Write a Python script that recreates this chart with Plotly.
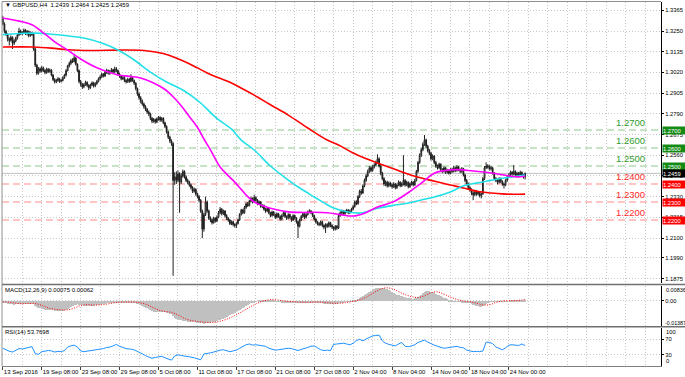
import plotly.graph_objects as go

W, H = 685, 377
PIP = 1e-4          # price lists stored in units of 0.0001
MACD_UNIT = 1e-5    # MACD lists stored in units of 0.00001

symbol_header = "\u25BC GBPUSD,H4  1.2439 1.2464 1.2425 1.2459"
macd_header = "MACD(12,26,9) 0.00075 0.00062"
rsi_header = "RSI(14) 53.7698"

# ---------------- candles (H4 bars, index 0 = 13 Sep 2016 08:00) ----------------
first_open = 13322
closes = [
    13290, 13248, 13230, 13205, 13198, 13215, 13182, 13195, 13210, 13228, 13250, 13238,
    13242, 13255, 13235, 13248, 13225, 13240, 13232, 13150, 13060, 13015, 13040, 13028,
    13045, 13030, 13020, 13038, 13025, 13032, 13005, 12980, 12968, 12975, 12985, 12970,
    12975, 12990, 13005, 13030, 13055, 13070, 13085, 13080, 13100, 13065, 13030, 12970,
    12955, 12940, 12952, 12965, 12948, 12935, 12950, 12962, 12945, 12958, 12970, 12985,
    12995, 13010, 13000, 13020, 13030, 13015, 13025, 13035, 13022, 13040, 13030, 13010,
    13000, 12985, 12992, 12975, 12968, 12982, 12970, 12990, 12975, 12960, 12930, 12900,
    12880, 12860, 12845, 12830, 12815, 12800, 12790, 12765, 12750, 12758, 12745, 12762,
    12770, 12755, 12765, 12740, 12720, 12690, 12660, 12640, 12625, 12420, 12440, 12420,
    12455, 12410, 12445, 12470, 12440, 12420, 12410, 12395, 12380, 12360, 12370, 12345,
    12330, 12310, 12250, 12150, 12230, 12300, 12250, 12210, 12200, 12185, 12210, 12195,
    12215, 12240, 12260, 12235, 12250, 12225, 12210, 12200, 12180, 12190, 12175, 12170,
    12180, 12200, 12230, 12255, 12240, 12270, 12290, 12280, 12305, 12320, 12300, 12325,
    12310, 12290, 12300, 12275, 12280, 12260, 12250, 12265, 12240, 12225, 12245, 12230,
    12215, 12235, 12220, 12205, 12225, 12240, 12220, 12210, 12230, 12215, 12200, 12225,
    12210, 12190, 12165, 12200, 12220, 12235, 12215, 12230, 12245, 12250, 12240, 12225,
    12205, 12190, 12180, 12175, 12190, 12170, 12160, 12175, 12165, 12185, 12170, 12160,
    12150, 12165, 12155, 12225, 12240, 12250, 12235, 12248, 12255, 12240, 12250, 12260,
    12275, 12300, 12290, 12330, 12360, 12350, 12390, 12420, 12445, 12470, 12490, 12475,
    12495, 12505, 12520, 12540, 12500, 12460, 12430, 12400, 12410, 12390, 12405, 12395,
    12385, 12400, 12380, 12395, 12410, 12390, 12400, 12420, 12395, 12410, 12385, 12400,
    12410, 12395, 12420, 12470, 12520, 12560, 12590, 12620, 12645, 12610, 12585, 12570,
    12540, 12555, 12520, 12500, 12490, 12510, 12480, 12470, 12490, 12465, 12475, 12460,
    12480, 12470, 12490, 12475, 12495, 12480, 12470, 12485, 12450, 12420, 12400, 12380,
    12370, 12350, 12340, 12360, 12345, 12355, 12335, 12345, 12430, 12490, 12500, 12495,
    12485, 12490, 12460, 12430, 12420, 12410, 12430, 12415, 12400, 12395, 12420, 12440,
    12450, 12465, 12455, 12470, 12450, 12460, 12445, 12465, 12450, 12439, 12459,
]
highs = [
    13335, 13298, 13256, 13238, 13215, 13226, 13220, 13204, 13218, 13236, 13268, 13258,
    13250, 13264, 13260, 13256, 13252, 13248, 13246, 13238, 13158, 13068, 13050, 13048,
    13056, 13052, 13038, 13046, 13044, 13042, 13038, 13010, 12988, 12984, 12994, 12990,
    12984, 12998, 13012, 13038, 13062, 13080, 13095, 13098, 13118, 13105, 13070, 13036,
    12978, 12962, 12960, 12974, 12970, 12955, 12958, 12970, 12968, 12966, 12978, 12992,
    13004, 13018, 13016, 13028, 13040, 13036, 13034, 13044, 13040, 13052, 13050, 13036,
    13018, 13006, 13000, 12998, 12982, 12990, 12988, 13010, 12996, 12980, 12966, 12936,
    12908, 12888, 12870, 12852, 12838, 12822, 12808, 12796, 12772, 12766, 12764, 12770,
    12778, 12776, 12772, 12770, 12746, 12726, 12696, 12668, 12648, 12632, 12465, 12470,
    12475, 12465, 12460, 12480, 12476, 12448, 12430, 12418, 12402, 12388, 12380, 12376,
    12352, 12338, 12316, 12258, 12240, 12330, 12308, 12258, 12220, 12208, 12218, 12215,
    12224, 12250, 12272, 12266, 12258, 12255, 12232, 12216, 12206, 12198, 12196, 12182,
    12188, 12208, 12238, 12262, 12262, 12278, 12298, 12300, 12312, 12330, 12326, 12340,
    12332, 12316, 12308, 12305, 12288, 12286, 12266, 12272, 12270, 12246, 12252, 12250,
    12236, 12242, 12240, 12226, 12232, 12248, 12245, 12226, 12238, 12236, 12220, 12232,
    12230, 12216, 12196, 12208, 12228, 12244, 12240, 12238, 12252, 12260, 12256, 12246,
    12230, 12212, 12196, 12188, 12198, 12196, 12176, 12182, 12182, 12192, 12190, 12176,
    12166, 12172, 12172, 12235, 12248, 12258, 12256, 12255, 12262, 12260, 12258, 12268,
    12284, 12308, 12310, 12338, 12368, 12372, 12398, 12430, 12455, 12480, 12500, 12498,
    12505, 12515, 12530, 12565, 12548, 12508, 12468, 12438, 12420, 12418, 12414, 12412,
    12402, 12410, 12406, 12404, 12420, 12415, 12410, 12560, 12428, 12418, 12414, 12408,
    12418, 12416, 12428, 12478, 12528, 12570, 12600, 12632, 12672, 12652, 12618, 12595,
    12578, 12565, 12560, 12528, 12508, 12518, 12515, 12488, 12498, 12495, 12484, 12480,
    12488, 12490, 12500, 12496, 12505, 12500, 12486, 12494, 12490, 12456, 12428, 12408,
    12388, 12376, 12358, 12368, 12366, 12362, 12360, 12352, 12440, 12500, 12520, 12510,
    12505, 12500, 12495, 12466, 12438, 12428, 12438, 12436, 12420, 12408, 12428, 12448,
    12460, 12474, 12472, 12505, 12476, 12468, 12466, 12474, 12470, 12456, 12464,
]
lows = [
    13282, 13238, 13222, 13192, 13170, 13190, 13150, 13172, 13188, 13202, 13222, 13228,
    13226, 13236, 13228, 13225, 13215, 13218, 13222, 13140, 13050, 13005, 13008, 13018,
    13020, 13022, 13010, 13012, 13016, 13018, 12998, 12972, 12958, 12960, 12968, 12962,
    12964, 12970, 12984, 12998, 13025, 13048, 13062, 13072, 13075, 13058, 13022, 12960,
    12942, 12928, 12932, 12945, 12938, 12922, 12928, 12944, 12936, 12938, 12950, 12964,
    12978, 12988, 12992, 12994, 13012, 13008, 13006, 13018, 13014, 13016, 13022, 13002,
    12990, 12976, 12978, 12966, 12958, 12962, 12962, 12965, 12968, 12950, 12920, 12890,
    12868, 12848, 12835, 12818, 12805, 12790, 12778, 12755, 12738, 12740, 12735, 12738,
    12752, 12745, 12746, 12732, 12710, 12680, 12650, 12628, 12612, 11890, 12395, 12400,
    12410, 12240, 12400, 12435, 12430, 12410, 12398, 12385, 12370, 12350, 12352, 12335,
    12320, 12298, 12240, 12100, 12135, 12222, 12240, 12200, 12188, 12175, 12180, 12185,
    12188, 12210, 12232, 12225, 12228, 12215, 12200, 12190, 12172, 12172, 12165, 12158,
    12155, 12175, 12195, 12225, 12232, 12235, 12262, 12272, 12275, 12298, 12292, 12295,
    12302, 12282, 12284, 12268, 12266, 12252, 12240, 12244, 12232, 12215, 12218, 12222,
    12205, 12208, 12212, 12196, 12198, 12218, 12212, 12200, 12204, 12206, 12190, 12195,
    12202, 12180, 12100, 12158, 12194, 12212, 12206, 12208, 12224, 12238, 12232, 12216,
    12196, 12180, 12170, 12165, 12168, 12160, 12148, 12128, 12155, 12158, 12160, 12150,
    12140, 12142, 12145, 12150, 12218, 12232, 12226, 12228, 12240, 12232, 12234, 12244,
    12254, 12268, 12282, 12285, 12322, 12340, 12345, 12382, 12412, 12438, 12462, 12465,
    12468, 12486, 12498, 12512, 12492, 12450, 12420, 12390, 12388, 12380, 12382, 12385,
    12374, 12378, 12370, 12372, 12388, 12382, 12384, 12392, 12385, 12388, 12376, 12378,
    12392, 12386, 12390, 12414, 12462, 12512, 12550, 12582, 12612, 12600, 12575, 12560,
    12530, 12532, 12510, 12490, 12480, 12484, 12470, 12460, 12464, 12456, 12458, 12452,
    12454, 12462, 12464, 12466, 12468, 12472, 12460, 12462, 12442, 12410, 12390, 12368,
    12358, 12338, 12310, 12332, 12335, 12336, 12325, 12320, 12340, 12422, 12482, 12485,
    12476, 12475, 12452, 12420, 12410, 12398, 12402, 12405, 12390, 12375, 12388, 12412,
    12432, 12444, 12446, 12448, 12442, 12440, 12436, 12440, 12442, 12430, 12425,
]
opens = [first_open] + closes[:-1]
bars = list(range(len(closes)))

# ---------------- moving averages (bar index, value) ----------------
ma_fast_bars = [0, 10, 18, 25, 32, 40, 49, 57, 65, 71, 78, 85, 93, 100, 105, 110, 115, 118, 121, 124,
                128, 134, 138, 142, 147, 151, 155, 160, 165, 176, 185, 192, 200, 208, 216, 223, 231, 241,
                252, 258, 266, 272, 280, 290, 301, 309, 316, 322]
ma_fast_vals = [13322, 13305, 13285, 13240, 13190, 13144, 13089, 13050, 13022, 13006, 12998, 12989, 12961,
                12925, 12885, 12835, 12775, 12740, 12700, 12650, 12590, 12494, 12455, 12420, 12370, 12330,
                12300, 12280, 12265, 12245, 12242, 12243, 12240, 12230, 12222, 12238, 12272, 12302, 12365,
                12405, 12460, 12474, 12480, 12472, 12461, 12450, 12440, 12443]
ma_mid_bars = [0, 10, 20, 30, 41, 50, 61, 71, 81, 91, 101, 111, 122, 131, 141, 147, 155, 165, 176, 184,
               192, 199, 204, 213, 221, 226, 231, 240, 250, 258, 266, 276, 284, 292, 299, 309, 316, 322]
ma_mid_vals = [13230, 13236, 13238, 13232, 13222, 13211, 13183, 13144, 13089, 13022, 12967, 12922, 12850,
               12772, 12705, 12644, 12589, 12500, 12422, 12372, 12328, 12290, 12267, 12244, 12239, 12250,
               12265, 12280, 12294, 12311, 12328, 12356, 12390, 12405, 12417, 12433, 12442, 12450]
ma_slow_bars = [0, 19, 30, 40, 55, 71, 87, 95, 102, 108, 114, 120, 126, 133, 141, 148, 155, 165, 176, 188,
                200, 207, 216, 223, 231, 243, 251, 258, 264, 270, 276, 284, 293, 301, 308, 315, 322]
ma_slow_vals = [13161, 13161, 13155, 13146, 13142, 13144, 13142, 13132, 13117, 13096, 13072, 13045, 13017,
                12990, 12961, 12928, 12894, 12840, 12783, 12711, 12644, 12617, 12572, 12544, 12517, 12478,
                12452, 12433, 12420, 12407, 12394, 12378, 12358, 12350, 12345, 12343, 12344]

# ---------------- MACD (12,26,9) ----------------
macd_main = [
    -60, -100, -130, -170, -190, -190, -210, -215, -210, -200, -185, -180,
    -175, -170, -170, -165, -165, -160, -160, -200, -280, -360, -410, -450,
    -480, -505, -525, -530, -535, -540, -555, -575, -590, -600, -605, -610,
    -600, -585, -560, -530, -490, -440, -380, -320, -260, -220, -210, -235,
    -255, -275, -285, -285, -290, -295, -290, -285, -280, -270, -260, -245,
    -225, -200, -185, -165, -145, -135, -120, -105, -100, -85, -80, -85,
    -85, -90, -90, -95, -100, -100, -100, -95, -95, -100, -130, -170,
    -200, -250, -300, -350, -400, -450, -500, -560, -610, -650, -680, -690,
    -690, -690, -685, -690, -705, -730, -760, -790, -815, -950, -1040, -1100,
    -1140, -1180, -1200, -1215, -1235, -1250, -1265, -1280, -1295, -1310, -1310, -1320,
    -1325, -1330, -1345, -1380, -1387, -1370, -1360, -1345, -1330, -1315, -1290, -1270,
    -1240, -1200, -1160, -1120, -1080, -1030, -980, -930, -880, -830, -780, -720,
    -660, -600, -540, -480, -420, -360, -300, -250, -200, -150, -110, -70,
    -30, 0, 30, 50, 65, 75, 80, 75, 65, 50, 30, 10,
    -10, -25, -40, -50, -60, -65, -70, -75, -80, -85, -90, -90,
    -95, -105, -120, -125, -120, -115, -110, -100, -90, -80, -75, -75,
    -85, -100, -115, -130, -140, -150, -160, -165, -170, -175, -180, -185,
    -190, -190, -180, -150, -120, -95, -75, -55, -40, -25, -15, -5,
    20, 50, 90, 130, 180, 240, 300, 370, 440, 510, 570, 630,
    680, 730, 775, 805, 825, 836, 830, 805, 765, 715, 660, 600,
    545, 490, 440, 395, 355, 320, 290, 270, 240, 210, 180, 160,
    150, 145, 160, 200, 260, 330, 400, 470, 540, 590, 610, 605,
    580, 540, 490, 440, 390, 345, 295, 250, 210, 170, 130, 90,
    50, 20, -5, -20, -35, -45, -55, -60, -65, -75, -95, -120,
    -150, -180, -220, -260, -290, -320, -345, -360, -330, -270, -200, -140,
    -90, -50, -20, -5, -5, -10, -15, -20, -25, -25, -20, -10,
    0, 15, 25, 35, 40, 45, 50, 55, 60, 65, 75,
]
signal_bars = list(range(0, 321, 4)) + [322]
macd_signal = [
    -70, -110, -164, -195, -180, -183, -296, -453, -537, -579,
    -574, -463, -312, -257, -280, -271, -219, -153, -104, -90,
    -97, -121, -222, -402, -581, -677, -728, -892, -1097, -1229,
    -1288, -1334, -1352, -1323, -1223, -1069, -877, -657, -423, -210,
    -46, 46, 49, -3, -53, -79, -101, -109, -94, -99,
    -135, -168, -171, -122, -46, 43, 202, 436, 663, 783,
    731, 552, 372, 242, 189, 295, 487, 532, 393, 214,
    68, -24, -78, -162, -273, -260, -123, -27, -14, -3,
    36, 62,
]
macd_max, macd_min = 0.00836, -0.01387

# ---------------- RSI (14), every second bar ----------------
rsi_bars = list(range(0, 323, 2))
rsi_vals = [
    47, 42, 39, 37, 41, 46, 45, 47, 49, 51,
    33, 31, 38, 39, 41, 40, 37, 39, 38, 41,
    50, 53, 55, 50, 40, 38, 39, 40, 41, 43,
    44, 46, 49, 50, 53, 57, 52, 48, 46, 45,
    44, 41, 36, 32, 28, 24, 21, 23, 25, 26,
    22, 19, 16, 27, 30, 28, 27, 25, 24, 22,
    20, 17, 32, 33, 35, 37, 40, 42, 43, 40,
    38, 40, 42, 47, 52, 56, 58, 55, 56, 55,
    53, 52, 47, 44, 42, 43, 45, 46, 47, 46,
    44, 41, 44, 46, 49, 52, 53, 48, 43, 41,
    42, 41, 57, 58, 59, 60, 58, 56, 60, 67,
    70, 66, 71, 76, 79, 80, 81, 66, 60, 57,
    54, 53, 58, 62, 52, 51, 53, 56, 62, 66,
    68, 63, 58, 55, 52, 49, 47, 48, 50, 51,
    52, 49, 48, 42, 40, 38, 39, 38, 40, 63,
    62, 59, 50, 46, 43, 48, 55, 56, 55, 54,
    58, 53.77,
]
rsi_levels = [70, 30]

# ---------------- axes text ----------------
time_label_bars = [0, 24, 48, 72, 96, 120, 144, 168, 192, 216, 240, 264, 288, 312]
time_labels = ["13 Sep 2016", "19 Sep 08:00", "23 Sep 08:00", "29 Sep 08:00", "5 Oct 08:00",
               "11 Oct 08:00", "17 Oct 08:00", "21 Oct 08:00", "27 Oct 08:00", "2 Nov 04:00",
               "8 Nov 04:00", "14 Nov 04:00", "18 Nov 04:00", "24 Nov 00:00"]
price_ticks = [1.3365, 1.3250, 1.3135, 1.3020, 1.2905, 1.2790, 1.2675, 1.2560, 1.2445,
               1.2330, 1.2215, 1.2100, 1.1990, 1.1875]
levels_green = [1.2700, 1.2600, 1.2500]
levels_red = [1.2400, 1.2300, 1.2200]
last_price = 1.2459

# ---------------- helpers ----------------
def px(x):
    return x / W

def py(y):
    return 1 - y / H

def prices(seq):
    return [v * PIP for v in seq]

XR = [-0.49, 405.8]
FONT = "Liberation Sans"
GRID = "#C8C8C8"
GDASH = "1px,2px"

fig = go.Figure()

fig.add_trace(go.Candlestick(
    x=bars, open=prices(opens), high=prices(highs), low=prices(lows), close=prices(closes),
    increasing=dict(line=dict(color="#202020", width=1), fillcolor="white"),
    decreasing=dict(line=dict(color="#202020", width=1), fillcolor="black"),
    whiskerwidth=0, xaxis="x", yaxis="y", showlegend=False, hoverinfo="skip"))

for bx, vals, col in [(ma_slow_bars, ma_slow_vals, "#FF0000"),
                      (ma_mid_bars, ma_mid_vals, "#22E0E8"),
                      (ma_fast_bars, ma_fast_vals, "#FF00FF")]:
    fig.add_trace(go.Scatter(x=bx, y=prices(vals), mode="lines", line=dict(color=col, width=1.6, shape="spline"),
                             xaxis="x", yaxis="y", showlegend=False, hoverinfo="skip"))

fig.add_trace(go.Bar(x=bars, y=[v * MACD_UNIT for v in macd_main], width=0.6,
                     marker=dict(color="#C0C0C0", line=dict(width=0)),
                     xaxis="x2", yaxis="y2", showlegend=False, hoverinfo="skip"))
fig.add_trace(go.Scatter(x=signal_bars, y=[v * MACD_UNIT for v in macd_signal], mode="lines",
                         line=dict(color="#FF0000", width=1, dash="1px,1.5px", shape="spline"),
                         xaxis="x2", yaxis="y2", showlegend=False, hoverinfo="skip"))

fig.add_trace(go.Scatter(x=rsi_bars, y=rsi_vals, mode="lines", line=dict(color="#1E90FF", width=1),
                         xaxis="x3", yaxis="y3", showlegend=False, hoverinfo="skip"))

xdom = [px(2), px(661)]
grid_bars = list(range(0, 406, 12))
common_x = dict(domain=xdom, range=XR, showgrid=True, gridcolor=GRID, griddash=GDASH, gridwidth=1,
                zeroline=False, fixedrange=True, automargin=False)

layout = dict(
    width=W, height=H, autosize=False, margin=dict(l=0, r=0, t=0, b=0, pad=0),
    paper_bgcolor="white", plot_bgcolor="white", bargap=0, boxgap=0.3,
    font=dict(family=FONT, size=6, color="black"),
    xaxis=dict(**common_x, anchor="y", tickvals=grid_bars, showticklabels=False, ticks="",
               rangeslider=dict(visible=False)),
    xaxis2=dict(**common_x, anchor="y2", tickvals=grid_bars, showticklabels=False, ticks=""),
    xaxis3=dict(**common_x, anchor="y3", tickvals=time_label_bars, ticktext=time_labels, tickangle=0,
                ticks="outside", ticklen=3, tickcolor="#404040", ticklabelposition="outside right",
                tickfont=dict(family=FONT, size=6, color="black"),
                minor=dict(tickvals=grid_bars, showgrid=True, gridcolor=GRID, griddash=GDASH, ticks=""),
                showline=True, linecolor="#808080", linewidth=1),
    yaxis=dict(domain=[py(283), py(2)], range=[1.1850, 1.34111], side="right", anchor="x",
               tickvals=price_ticks, ticktext=[f"{v:.4f}" for v in price_ticks],
               ticks="outside", ticklen=2, tickcolor="black", automargin=False,
               tickfont=dict(family=FONT, size=5.8, color="black"),
               showgrid=True, gridcolor=GRID, griddash=GDASH, zeroline=False,
               showline=True, linecolor="black", linewidth=1, fixedrange=True),
    yaxis2=dict(domain=[py(326), py(285.5)], range=[-0.015721, 0.009286], side="right", anchor="x2",
                tickvals=[0], ticktext=["0.00"], ticks="outside", ticklen=2, tickcolor="black",
                tickfont=dict(family=FONT, size=5.8, color="black"),
                automargin=False, showgrid=True, gridcolor=GRID, griddash=GDASH, zeroline=False,
                showline=True, linecolor="black", linewidth=1, fixedrange=True),
    yaxis3=dict(domain=[py(366), py(327.5)], range=[0.8, 100.8], side="right", anchor="x3",
                tickvals=rsi_levels, ticktext=[str(v) for v in rsi_levels], ticks="outside", ticklen=2,
                tickfont=dict(family=FONT, size=5.8, color="black"),
                tickcolor="black", automargin=False, showgrid=True, gridcolor=GRID, griddash=GDASH,
                zeroline=False, showline=True, linecolor="black", linewidth=1, fixedrange=True),
)
fig.update_layout(**layout)

shapes = []
for lv in levels_green:
    shapes.append(dict(type="line", xref="paper", yref="y", x0=px(2), x1=px(661), y0=lv, y1=lv,
                       line=dict(color="#8CC88C", width=1.2, dash="7px,4px"), layer="between"))
for lv in levels_red:
    shapes.append(dict(type="line", xref="paper", yref="y", x0=px(2), x1=px(661), y0=lv, y1=lv,
                       line=dict(color="#FF8C8C", width=1.2, dash="7px,4px"), layer="between"))
shapes.append(dict(type="line", xref="paper", yref="y", x0=px(2), x1=px(661), y0=last_price, y1=last_price,
                   line=dict(color="#C0C0C0", width=1), layer="between"))
shapes.append(dict(type="line", xref="paper", yref="paper", x0=px(2), x1=px(661), y0=py(1.5), y1=py(1.5),
                   line=dict(color="#909090", width=1)))
shapes.append(dict(type="line", xref="paper", yref="paper", x0=px(2), x1=px(2), y0=py(1.5), y1=py(366),
                   line=dict(color="#909090", width=1)))
for yy in (284.5, 326.7):
    shapes.append(dict(type="line", xref="paper", yref="paper", x0=px(2), x1=1, y0=py(yy), y1=py(yy),
                       line=dict(color="#707070", width=1.6)))
fig.update_layout(shapes=shapes)

ann = []
ann.append(dict(x=px(3), y=py(5.5), xref="paper", yref="paper", text=symbol_header, showarrow=False,
                xanchor="left", yanchor="middle", font=dict(size=6, color="black")))
ann.append(dict(x=px(3), y=py(290), xref="paper", yref="paper", text=macd_header, showarrow=False,
                xanchor="left", yanchor="middle", font=dict(size=6, color="black")))
ann.append(dict(x=px(3), y=py(332), xref="paper", yref="paper", text=rsi_header, showarrow=False,
                xanchor="left", yanchor="middle", font=dict(size=6, color="black")))
ann.append(dict(x=px(663.5), y=py(290), xref="paper", yref="paper", text=f"{macd_max:.5f}", showarrow=False,
                xanchor="left", yanchor="middle", font=dict(size=5.5)))
ann.append(dict(x=px(662.5), y=py(322.7), xref="paper", yref="paper", text=f"{macd_min:.5f}", showarrow=False,
                xanchor="left", yanchor="middle", font=dict(size=5.3)))
ann.append(dict(x=px(664), y=py(331.7), xref="paper", yref="paper", text="100", showarrow=False,
                xanchor="left", yanchor="middle", font=dict(size=5.8)))
ann.append(dict(x=px(664), y=py(361.3), xref="paper", yref="paper", text="0", showarrow=False,
                xanchor="left", yanchor="middle", font=dict(size=5.8)))
for lv, tcol, bcol in [(v, "#2E9B2E", "#138A13") for v in levels_green] + \
                      [(v, "#FF2A2A", "#FF0000") for v in levels_red]:
    ann.append(dict(x=px(647), y=lv, xref="paper", yref="y", text=f"{lv:.4f}", showarrow=False,
                    xanchor="right", yanchor="bottom", font=dict(size=9.5, color=tcol)))
    ann.append(dict(x=px(662), y=lv, xref="paper", yref="y", text=f"{lv:.4f}", showarrow=False,
                    xanchor="left", yanchor="middle", bgcolor=bcol, width=22, height=7, borderpad=0,
                    align="left", font=dict(size=5.8, color="white")))
ann.append(dict(x=px(662), y=last_price, xref="paper", yref="y", text=f"{last_price:.4f}", showarrow=False,
                xanchor="left", yanchor="middle", bgcolor="black", width=22, height=7, borderpad=0,
                align="left", font=dict(size=5.8, color="white")))
fig.update_layout(annotations=ann)

fig.write_html("out.html", config={"responsive": False, "displayModeBar": False},
               post_script="document.body.style.margin='0px';document.body.style.padding='0px';")
